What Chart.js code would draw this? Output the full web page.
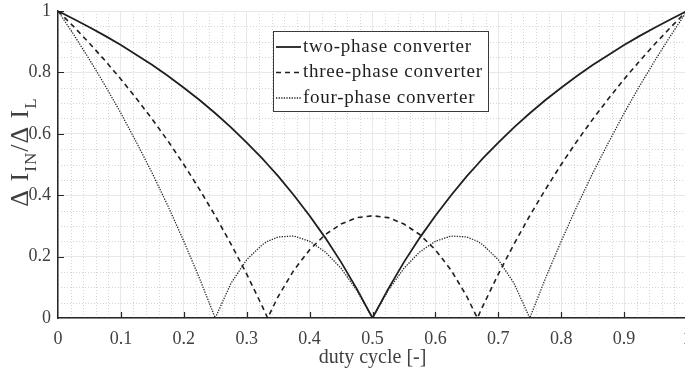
<!DOCTYPE html>
<html>
<head>
<meta charset="utf-8">
<script src="https://cdn.jsdelivr.net/npm/chart.js"></script>
<style>
  html, body { margin: 0; padding: 0; background: #fff; overflow: hidden; }
  #wrap { position: relative; width: 690px; height: 374px; }
</style>
</head>
<body>
<div id="wrap"><canvas id="ripple-chart"></canvas></div>
<script>
// duty cycle samples (x) and ripple ratio
const dutyCycle = [0, 0.025, 0.05, 0.075, 0.1, 0.125, 0.15, 0.175, 0.2, 0.225, 0.25, 0.275, 0.3, 0.325, 0.3333,
  0.35, 0.375, 0.4, 0.425, 0.45, 0.475, 0.5, 0.525, 0.55, 0.575, 0.6, 0.625, 0.65, 0.6667, 0.675, 0.7,
  0.725, 0.75, 0.775, 0.8, 0.825, 0.85, 0.875, 0.9, 0.925, 0.95, 0.975, 1];
const twoPhase = [1, 0.974, 0.947, 0.919, 0.889, 0.857, 0.824, 0.788, 0.750, 0.710, 0.667, 0.621, 0.571, 0.519, 0.500,
  0.462, 0.400, 0.333, 0.261, 0.182, 0.095, 0, 0.095, 0.182, 0.261, 0.333, 0.400, 0.462, 0.500, 0.519, 0.571,
  0.621, 0.667, 0.710, 0.750, 0.788, 0.824, 0.857, 0.889, 0.919, 0.947, 0.974, 1];
const threePhase = [1, 0.949, 0.895, 0.838, 0.778, 0.714, 0.647, 0.576, 0.500, 0.419, 0.333, 0.241, 0.143, 0.037, 0,
  0.070, 0.156, 0.222, 0.272, 0.306, 0.327, 0.333, 0.327, 0.306, 0.272, 0.222, 0.156, 0.070, 0, 0.037, 0.143,
  0.241, 0.333, 0.419, 0.500, 0.576, 0.647, 0.714, 0.778, 0.838, 0.895, 0.949, 1];
const fourPhase = [1, 0.923, 0.842, 0.757, 0.667, 0.571, 0.471, 0.364, 0.250, 0.129, 0, 0.113, 0.190, 0.239, 0.250,
  0.264, 0.267, 0.250, 0.215, 0.162, 0.090, 0, 0.090, 0.162, 0.215, 0.250, 0.267, 0.264, 0.250, 0.239, 0.190,
  0.113, 0, 0.129, 0.250, 0.364, 0.471, 0.571, 0.667, 0.757, 0.842, 0.923, 1];
const seriesLabels = ['two-phase converter', 'three-phase converter', 'four-phase converter'];
const xTicks = [0, 0.1, 0.2, 0.3, 0.4, 0.5, 0.6, 0.7, 0.8, 0.9, 1];
const yTicks = [0, 0.2, 0.4, 0.6, 0.8, 1];
const xMinorStep = 0.02;
const yMinorStep = 0.05;

document.addEventListener('DOMContentLoaded', function() {
  const serif = "'Liberation Serif', 'Times New Roman', serif";
  const axisColor = '#262626';
  const textColor = '#404040';

  Chart.defaults.font.family = serif;

  function toPoints(values) {
    return dutyCycle.map(function(d, i) { return { x: d, y: values[i] }; });
  }

  // dotted minor grid, drawn before the major grid
  const minorGrid = {
    id: 'minorGrid',
    beforeDraw(chart) {
      const { ctx, chartArea: a, scales } = chart;
      ctx.save();
      ctx.strokeStyle = '#d4d4d4';
      ctx.lineWidth = 1;
      ctx.setLineDash([1, 2]);
      ctx.beginPath();
      for (let k = 1; k < 1 / xMinorStep; k++) {
        if (k % 5 === 0) continue;
        const x = Math.round(scales.x.getPixelForValue(k * xMinorStep)) + 0.5;
        ctx.moveTo(x, a.top); ctx.lineTo(x, a.bottom);
      }
      for (let k = 1; k < 1 / yMinorStep; k++) {
        if (k % 4 === 0) continue;
        const y = Math.round(scales.y.getPixelForValue(k * yMinorStep)) + 0.5;
        ctx.moveTo(a.left, y); ctx.lineTo(a.right, y);
      }
      ctx.stroke();
      ctx.restore();
    }
  };

  // inward tick marks on left and bottom axes
  const innerTicks = {
    id: 'innerTicks',
    beforeDatasetsDraw(chart) {
      const { ctx, chartArea: a, scales } = chart;
      ctx.save();
      ctx.strokeStyle = axisColor;
      ctx.lineWidth = 1.2;
      ctx.beginPath();
      xTicks.slice(1).forEach(function(v) {
        const x = Math.round(scales.x.getPixelForValue(v)) + 0.5;
        ctx.moveTo(x, a.bottom); ctx.lineTo(x, a.bottom - 6);
      });
      yTicks.slice(1).forEach(function(v) {
        const y = Math.round(scales.y.getPixelForValue(v)) + 0.5;
        ctx.moveTo(a.left, y); ctx.lineTo(a.left + 6, y);
      });
      ctx.stroke();
      ctx.restore();
    }
  };

  // boxed legend inside the plot
  const boxLegend = {
    id: 'boxLegend',
    afterDraw(chart) {
      const ctx = chart.ctx;
      const left = 273, top = 31, w = 215, h = 80;
      ctx.save();
      ctx.fillStyle = '#fff';
      ctx.fillRect(left, top, w, h);
      ctx.strokeStyle = '#3a3a3a';
      ctx.lineWidth = 1;
      ctx.strokeRect(left + 0.5, top + 0.5, w, h);
      ctx.font = '19px ' + serif;
      ctx.letterSpacing = '0.75px';
      ctx.textBaseline = 'middle';
      chart.data.datasets.forEach(function(ds, i) {
        const y = top + 16 + i * 25.5;
        ctx.strokeStyle = ds.borderColor;
        ctx.lineWidth = ds.borderWidth;
        ctx.setLineDash(ds.borderDash || []);
        ctx.beginPath();
        ctx.moveTo(left + 3, y); ctx.lineTo(left + 28, y);
        ctx.stroke();
        ctx.setLineDash([]);
        ctx.fillStyle = '#1e1e1e';
        ctx.fillText(ds.label, left + 30, y);
      });
      ctx.restore();
    }
  };

  // rotated y title with subscripts
  const yTitle = {
    id: 'yTitle',
    afterDraw(chart) {
      const ctx = chart.ctx;
      const parts = [['\u0394 I', 26, 0], ['IN', 17, 8], ['/\u0394 I', 26, 0], ['L', 17, 8]];
      ctx.save();
      ctx.letterSpacing = '1px';
      let total = 0;
      parts.forEach(function(p) { ctx.font = p[1] + 'px ' + serif; total += ctx.measureText(p[0]).width; });
      ctx.translate(28, 152);
      ctx.rotate(-Math.PI / 2);
      ctx.fillStyle = textColor;
      ctx.textBaseline = 'alphabetic';
      let x = -total / 2;
      parts.forEach(function(p) {
        ctx.font = p[1] + 'px ' + serif;
        ctx.fillText(p[0], x, p[2]);
        x += ctx.measureText(p[0]).width;
      });
      ctx.restore();
    }
  };

  function tickText(v) { return String(Math.round(v * 10) / 10); }

  const ctx = document.getElementById('ripple-chart').getContext('2d');
  new Chart(ctx, {
    type: 'line',
    data: {
      datasets: [
        { label: seriesLabels[0], data: toPoints(twoPhase), borderColor: '#1f1f1f', borderWidth: 1.8, borderDash: [] },
        { label: seriesLabels[1], data: toPoints(threePhase), borderColor: '#1f1f1f', borderWidth: 1.6, borderDash: [5, 4] },
        { label: seriesLabels[2], data: toPoints(fourPhase), borderColor: '#262626', borderWidth: 1.3, borderDash: [1.3, 1.3] }
      ]
    },
    options: {
      responsive: true,
      maintainAspectRatio: false,
      animation: false,
      layout: { padding: { top: 11, right: 3, left: 0, bottom: 0 } },
      elements: { point: { radius: 0 }, line: { tension: 0, fill: false } },
      plugins: { legend: { display: false }, tooltip: { enabled: false } },
      scales: {
        x: {
          type: 'linear', min: 0, max: 1,
          afterBuildTicks: function(s) { s.ticks = xTicks.map(function(v) { return { value: v }; }); },
          afterFit: function(s) { s.height = 56; s.paddingLeft = 0; s.paddingRight = 0; },
          grid: { color: '#e8e8e8', lineWidth: 1, drawTicks: false },
          border: { color: axisColor, width: 1.5 },
          ticks: { color: textColor, font: { size: 18 }, padding: 10, maxRotation: 0, autoSkip: false, callback: tickText },
          title: { display: true, text: 'duty cycle [-]', color: textColor, font: { size: 20 }, padding: { top: 0, bottom: 4 } }
        },
        y: {
          type: 'linear', min: 0, max: 1,
          afterBuildTicks: function(s) { s.ticks = yTicks.map(function(v) { return { value: v }; }); },
          afterFit: function(s) { s.width = 58; s.paddingTop = 0; s.paddingBottom = 0; },
          grid: { color: '#e8e8e8', lineWidth: 1, drawTicks: false },
          border: { color: axisColor, width: 1.5 },
          ticks: { color: textColor, font: { size: 18 }, padding: 7, callback: tickText }
        }
      }
    },
    plugins: [minorGrid, innerTicks, boxLegend, yTitle]
  });
});
</script>
</body>
</html>
